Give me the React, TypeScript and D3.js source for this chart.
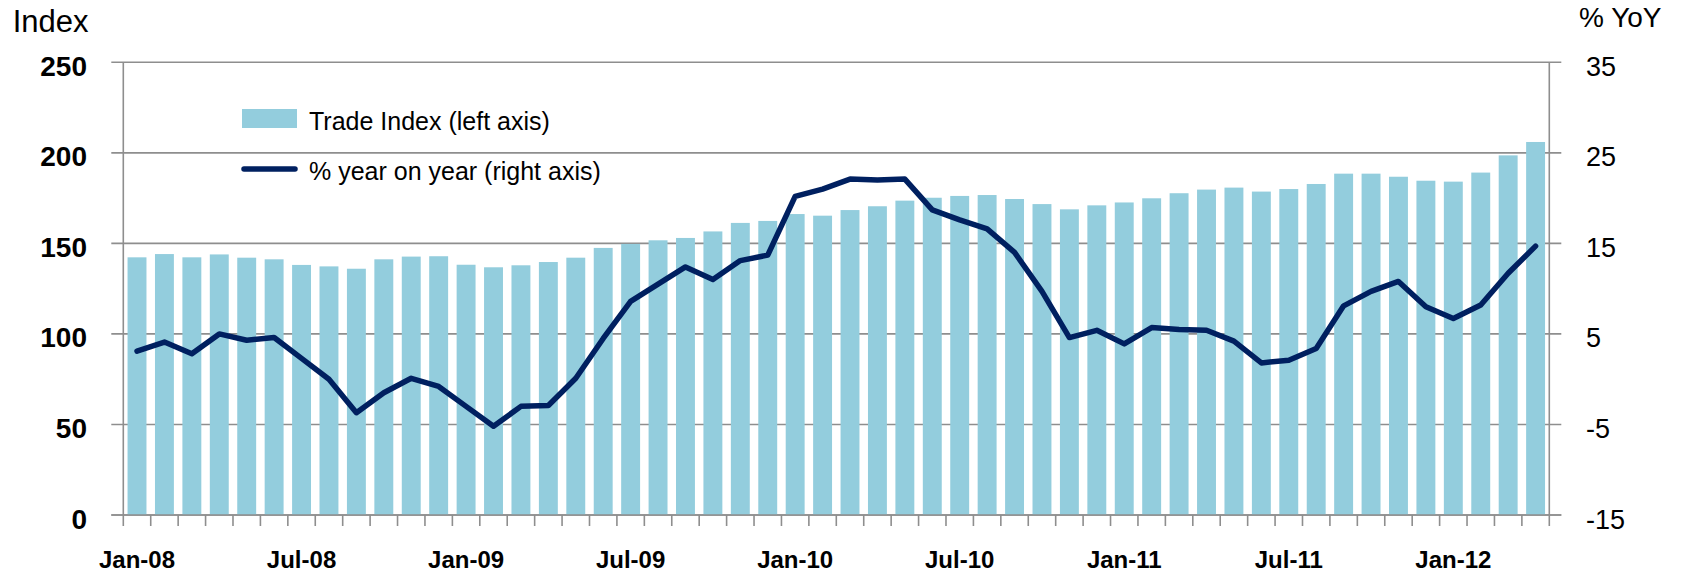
import React from 'react'
import * as d3 from 'd3'

// monthly categories, Jan-08 .. Apr-12
const months = [
  'Jan-08', 'Feb-08', 'Mar-08', 'Apr-08', 'May-08', 'Jun-08', 'Jul-08', 'Aug-08', 'Sep-08', 'Oct-08', 'Nov-08', 'Dec-08',
  'Jan-09', 'Feb-09', 'Mar-09', 'Apr-09', 'May-09', 'Jun-09', 'Jul-09', 'Aug-09', 'Sep-09', 'Oct-09', 'Nov-09', 'Dec-09',
  'Jan-10', 'Feb-10', 'Mar-10', 'Apr-10', 'May-10', 'Jun-10', 'Jul-10', 'Aug-10', 'Sep-10', 'Oct-10', 'Nov-10', 'Dec-10',
  'Jan-11', 'Feb-11', 'Mar-11', 'Apr-11', 'May-11', 'Jun-11', 'Jul-11', 'Aug-11', 'Sep-11', 'Oct-11', 'Nov-11', 'Dec-11',
  'Jan-12', 'Feb-12', 'Mar-12', 'Apr-12',
]

// Trade Index (left axis)
const tradeIndex = [
  142.3, 144.1, 142.3, 143.9, 142.1, 141.2, 138.1, 137.3, 136.0, 141.2, 142.7, 142.9,
  138.2, 136.8, 137.9, 139.7, 142.1, 147.5, 149.7, 151.7, 153.0, 156.6, 161.3, 162.4,
  166.2, 165.3, 168.4, 170.5, 173.6, 175.2, 176.2, 176.7, 174.5, 171.7, 168.8, 171.0,
  172.6, 174.9, 177.7, 179.7, 180.8, 178.6, 180.0, 182.8, 188.5, 188.5, 186.8, 184.6,
  184.1, 189.1, 198.6, 206.0,
]

// % year on year (right axis)
const yoy = [
  3.1, 4.1, 2.8, 5.0, 4.3, 4.6, 2.3, 0.0, -3.7, -1.5, 0.1, -0.8,
  -3.0, -5.2, -3.0, -2.9, 0.1, 4.5, 8.6, 10.5, 12.4, 11.0, 13.1, 13.7,
  20.2, 21.0, 22.1, 22.0, 22.1, 18.7, 17.6, 16.6, 14.0, 9.7, 4.6, 5.4,
  3.9, 5.7, 5.5, 5.4, 4.2, 1.8, 2.1, 3.4, 8.1, 9.7, 10.8, 8.0,
  6.7, 8.2, 11.7, 14.7,
]

const leftTicks = [0, 50, 100, 150, 200, 250]
const rightTicks = [-15, -5, 5, 15, 25, 35]
const xLabels = ['Jan-08', 'Jul-08', 'Jan-09', 'Jul-09', 'Jan-10', 'Jul-10', 'Jan-11', 'Jul-11', 'Jan-12']

const W = 1682
const H = 573
const plot = { left: 123.3, right: 1549.3, top: 62.3, bottom: 515 }
const FONT = '"Liberation Sans", Arial, sans-serif'
const GRID = '#8e8e8e'
const BAR = '#93cddd'
const LINE = '#002060'

export default function App() {
  const x = d3
    .scaleBand<string>()
    .domain(months)
    .range([plot.left, plot.right])
    .paddingInner(0.31)
    .paddingOuter(0.155)
  const step = x.step()
  const yL = d3.scaleLinear().domain([0, 250]).range([plot.bottom, plot.top])
  const yR = d3.scaleLinear().domain([-15, 35]).range([plot.bottom, plot.top])

  const line = d3
    .line<number>()
    .x((_, i) => (x(months[i]) as number) + x.bandwidth() / 2)
    .y(d => yR(d))

  const boundaries = d3.range(months.length + 1).map(i => plot.left + i * step)

  return (
    <svg
      width={W}
      height={H}
      style={{ position: 'absolute', left: 0, top: 0, background: '#fff' }}
      fontFamily={FONT}
    >
      {/* gridlines with outside ticks on both sides */}
      {leftTicks.map(t => (
        <line
          key={t}
          x1={plot.left - 12}
          x2={plot.right + 12}
          y1={yL(t)}
          y2={yL(t)}
          stroke={GRID}
          strokeWidth={1.6}
        />
      ))}

      {/* bars */}
      {tradeIndex.map((v, i) => (
        <rect
          key={months[i]}
          x={x(months[i])}
          y={yL(v)}
          width={x.bandwidth()}
          height={yL(0) - yL(v)}
          fill={BAR}
        />
      ))}

      {/* axes */}
      <line x1={plot.left} x2={plot.left} y1={plot.top} y2={plot.bottom} stroke={GRID} strokeWidth={1.6} />
      <line x1={plot.right} x2={plot.right} y1={plot.top} y2={plot.bottom} stroke={GRID} strokeWidth={1.6} />
      <line x1={plot.left - 12} x2={plot.right + 12} y1={plot.bottom} y2={plot.bottom} stroke={GRID} strokeWidth={1.6} />
      {boundaries.map((bx, i) => (
        <line key={i} x1={bx} x2={bx} y1={plot.bottom} y2={plot.bottom + 11} stroke={GRID} strokeWidth={1.6} />
      ))}

      {/* yoy line */}
      <path
        d={line(yoy) || ''}
        fill="none"
        stroke={LINE}
        strokeWidth={5.5}
        strokeLinejoin="round"
        strokeLinecap="round"
      />

      {/* left tick labels */}
      {leftTicks.map(t => (
        <text key={t} x={87} y={yL(t) + 13.5} textAnchor="end" fontSize={28} fontWeight="bold" fill="#000">
          {t}
        </text>
      ))}
      {/* right tick labels */}
      {rightTicks.map(t => (
        <text key={t} x={1586} y={yR(t) + 13.5} textAnchor="start" fontSize={27} fill="#000">
          {t}
        </text>
      ))}
      {/* x labels */}
      {xLabels.map(m => (
        <text
          key={m}
          x={(x(m) as number) + x.bandwidth() / 2}
          y={568}
          textAnchor="middle"
          fontSize={24}
          fontWeight="bold"
          fill="#000"
        >
          {m}
        </text>
      ))}

      {/* axis titles */}
      <text x={12.7} y={32.3} fontSize={31} fill="#000">Index</text>
      <text x={1579} y={27.3} fontSize={28} fill="#000">% YoY</text>

      {/* legend */}
      <rect x={242} y={109} width={55} height={19} fill={BAR} />
      <text x={309} y={130} fontSize={25} fill="#000">Trade Index (left axis)</text>
      <line x1={244} x2={295} y1={169} y2={169} stroke={LINE} strokeWidth={5.5} strokeLinecap="round" />
      <text x={309} y={180} fontSize={25} fill="#000">% year on year (right axis)</text>
    </svg>
  )
}
